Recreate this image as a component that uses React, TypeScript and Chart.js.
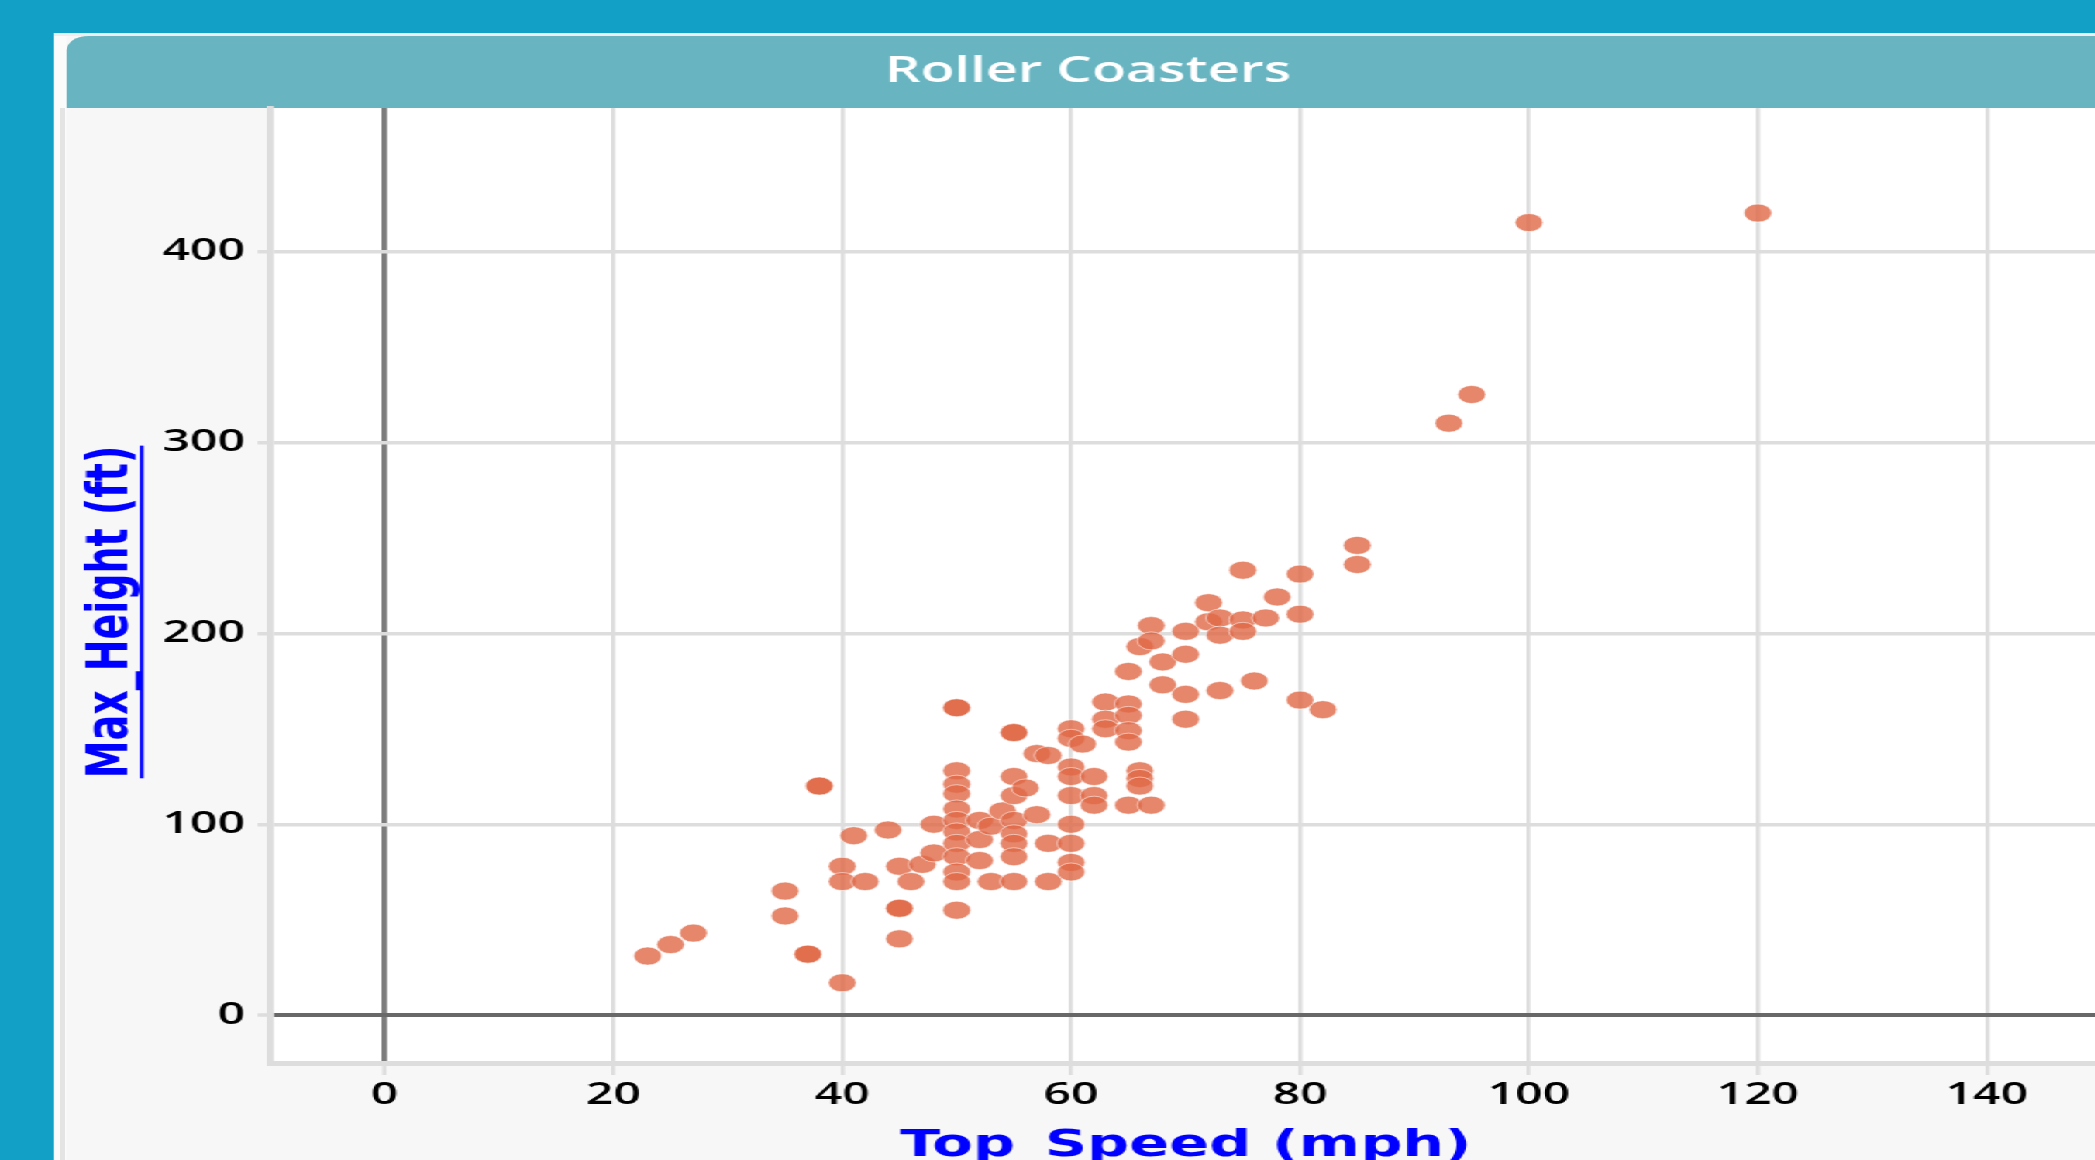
import React, { useEffect, useRef } from "react";
import { Chart, registerables } from "chart.js";

Chart.register(...registerables);

// ---------- data ----------
const speedMph = [
  23, 25, 27,
  35, 35, 37, 37, 38, 38,
  40, 40, 40, 41, 42, 44, 45, 45, 45, 45, 46, 47, 48, 48,
  50, 50, 50, 50, 50, 50, 50, 50, 50, 50, 50, 50, 50,
  52, 52, 52, 53, 53, 54,
  55, 55, 55, 55, 55, 55, 55, 55, 55, 56, 57, 57, 58, 58, 58,
  60, 60, 60, 60, 60, 60, 60, 60, 60, 61, 62, 62, 62,
  63, 63, 63, 65, 65, 65, 65, 65, 65, 66, 66, 66, 66,
  67, 67, 67, 68, 68, 70, 70, 70, 70,
  72, 72, 73, 73, 73, 75, 75, 75, 76, 77, 78,
  80, 80, 80, 82, 85, 85, 93, 95, 100, 120,
];
const heightFt = [
  31, 37, 43,
  65, 52, 32, 32, 120, 120,
  78, 70, 17, 94, 70, 97, 78, 56, 56, 40, 70, 79, 100, 85,
  161, 161, 128, 121, 116, 108, 102, 96, 90, 83, 75, 70, 55,
  102, 92, 81, 99, 70, 107,
  148, 148, 125, 115, 102, 95, 90, 83, 70, 119, 137, 105, 136, 90, 70,
  150, 145, 130, 125, 115, 100, 90, 80, 75, 142, 125, 115, 110,
  164, 155, 150, 163, 157, 149, 143, 110, 180, 128, 124, 120, 193,
  110, 204, 196, 185, 173, 201, 189, 168, 155,
  216, 206, 208, 199, 170, 233, 207, 201, 175, 208, 219,
  231, 210, 165, 160, 246, 236, 310, 325, 415, 420,
];
const xTickValues = [0, 20, 40, 60, 80, 100, 120, 140];
const yTickValues = [0, 100, 200, 300, 400];

const chartTitle = "Roller Coasters";
const xTitle = "Top_Speed (mph)";
const yTitle = "Max_Height (ft)";
const Y_TITLE_TAIL = "    "; // trailing room that nudges the label down its axis

// ---------- layout / style ----------
const S = 1.55; // horizontal stretch of the whole picture
const AXIS_FONT = '"DejaVu Sans", "Open Sans", sans-serif';
const TICK_FONT = '"Open Sans", "DejaVu Sans", sans-serif';
const AXIS_TITLE_SIZE = 38;
const AXIS_TITLE_LH = 1.2;
const X_TITLE_PAD = 67.5;
const Y_TITLE_PAD = 6.6;
const LINK_BLUE = "#0000FF";

const plotBgPlugin = {
  id: "plotBg",
  beforeDraw(chart: any) {
    const { ctx, chartArea } = chart;
    if (!chartArea) return;
    ctx.save();
    ctx.fillStyle = "#FFFFFF";
    ctx.fillRect(chartArea.left, chartArea.top, chartArea.right - chartArea.left, chartArea.bottom - chartArea.top);
    ctx.restore();
  },
};

const underlinePlugin = {
  id: "titleUnderline",
  afterDraw(chart: any) {
    const ctx = chart.ctx;
    const xs = chart.scales.x;
    const ys = chart.scales.y;
    const lh = AXIS_TITLE_SIZE * AXIS_TITLE_LH;
    const off = AXIS_TITLE_SIZE * 0.297 + AXIS_TITLE_SIZE * 0.17;
    ctx.save();
    ctx.fillStyle = LINK_BLUE;
    ctx.font = `bold ${AXIS_TITLE_SIZE}px ${AXIS_FONT}`;
    const wx = ctx.measureText(xTitle).width;
    const cx = (xs.left + xs.right) / 2;
    const midY = xs.bottom - lh / 2 - X_TITLE_PAD;
    ctx.fillRect(cx - wx / 2, midY + off, wx, 3);
    const wv = ctx.measureText(yTitle).width;
    const wf = ctx.measureText(yTitle + Y_TITLE_TAIL).width;
    const cy = (ys.top + ys.bottom) / 2;
    const midX = ys.left + lh / 2 + Y_TITLE_PAD;
    ctx.fillRect(midX + off, cy + wf / 2 - wv, 2.4, wv);
    ctx.restore();
  },
};

export default function App() {
  const canvasRef = useRef<HTMLCanvasElement | null>(null);

  useEffect(() => {
    if (!canvasRef.current) return;
    const points = speedMph.map((x, i) => ({ x, y: heightFt[i] }));
    const chart = new Chart(canvasRef.current, {
      type: "scatter",
      data: {
        datasets: [
          {
            label: "Roller Coasters",
            data: points,
            backgroundColor: "rgba(224,104,70,0.8)",
            borderColor: "rgba(255,255,255,0.55)",
            borderWidth: 1,
            pointRadius: 9,
            pointHoverRadius: 9,
          },
        ],
      },
      options: {
        animation: false,
        responsive: true,
        maintainAspectRatio: false,
        layout: { padding: { left: 0, right: 4.9, top: 0, bottom: 0 } },
        plugins: {
          legend: { display: false },
          tooltip: { enabled: false },
          title: {
            display: true,
            text: chartTitle,
            color: "#FFFFFF",
            font: { family: '"Open Sans", sans-serif', size: 36, weight: "600", lineHeight: 1.2 },
            padding: { top: 14.4, bottom: 14.4 },
          },
        },
        scales: {
          x: {
            type: "linear",
            min: -10,
            max: 150,
            afterBuildTicks: (s: any) => {
              s.ticks = xTickValues.map((v) => ({ value: v }));
            },
            afterFit: (s: any) => {
              s.height = 173;
            },
            grid: {
              color: (c: any) => (c.tick && c.tick.value === 0 ? "#7C7C7C" : "#DDDDDD"),
              lineWidth: (c: any) => (c.tick && c.tick.value === 0 ? 3.6 : 2.6),
              tickColor: "#DDDDDD",
              tickWidth: 2.6,
              tickLength: 12,
              drawTicks: true,
            },
            border: { display: true, color: "#DDDDDD", width: 5 },
            ticks: {
              color: "#000000",
              padding: 1.5,
              font: { family: TICK_FONT, size: 31, weight: "600", lineHeight: 1.2 },
              maxRotation: 0,
            },
            title: {
              display: true,
              text: xTitle,
              color: LINK_BLUE,
              font: { family: AXIS_FONT, size: AXIS_TITLE_SIZE, weight: "bold", lineHeight: AXIS_TITLE_LH },
              padding: { top: 0, bottom: X_TITLE_PAD },
            },
          },
          y: {
            type: "linear",
            min: -25,
            max: 475,
            afterBuildTicks: (s: any) => {
              s.ticks = yTickValues.map((v) => ({ value: v }));
            },
            afterFit: (s: any) => {
              s.width = 131.1;
            },
            grid: {
              color: (c: any) => (c.tick && c.tick.value === 0 ? "#686868" : "#DDDDDD"),
              lineWidth: (c: any) => (c.tick && c.tick.value === 0 ? 4 : 3.5),
              tickColor: "#DDDDDD",
              tickWidth: 3.5,
              tickLength: 8,
              drawTicks: true,
            },
            border: { display: true, color: "#DDDDDD", width: 4.5 },
            ticks: {
              color: "#000000",
              padding: 8.2,
              font: { family: TICK_FONT, size: 31, weight: "600", lineHeight: 1.2 },
            },
            title: {
              display: true,
              text: yTitle + Y_TITLE_TAIL,
              color: LINK_BLUE,
              font: { family: AXIS_FONT, size: AXIS_TITLE_SIZE, weight: "bold", lineHeight: AXIS_TITLE_LH },
              padding: { top: Y_TITLE_PAD, bottom: 0 },
            },
          },
        },
      } as any,
      plugins: [plotBgPlugin, underlinePlugin],
    });
    return () => {
      chart.destroy();
    };
  }, []);

  const cardLeft = 54 / S;
  const barLeft = 67 / S;

  return (
    <div
      style={{
        position: "fixed",
        left: 0,
        top: 0,
        width: 2095,
        height: 1160,
        overflow: "hidden",
        background: "#13A0C7",
      }}
    >
      <div
        style={{
          position: "absolute",
          left: 0,
          top: 0,
          width: 1450,
          height: 1300,
          transform: `scaleX(${S})`,
          transformOrigin: "0 0",
        }}
      >
        <div
          style={{
            position: "absolute",
            left: cardLeft,
            top: 33,
            width: 1450 - cardLeft,
            height: 1300,
            background: "#F7F7F7",
            borderTop: "3px solid #EEEEEE",
          }}
        />
        <div
          style={{
            position: "absolute",
            left: cardLeft,
            top: 36,
            width: barLeft - cardLeft,
            height: 1300,
            background: "#FBFBFB",
          }}
        />
        <div
          style={{
            position: "absolute",
            left: 61 / S,
            top: 108,
            width: 4 / S,
            height: 1300,
            background: "#E4E4E4",
          }}
        />
        <div
          style={{
            position: "absolute",
            left: barLeft,
            top: 36,
            width: 1450 - barLeft,
            height: 72,
            background: "#68B5C1",
            borderTopLeftRadius: 14,
          }}
        />
        <div
          style={{
            position: "absolute",
            left: barLeft,
            top: 36,
            width: 1321.6,
            height: 1200,
          }}
        >
          <canvas ref={canvasRef} />
        </div>
      </div>
    </div>
  );
}
